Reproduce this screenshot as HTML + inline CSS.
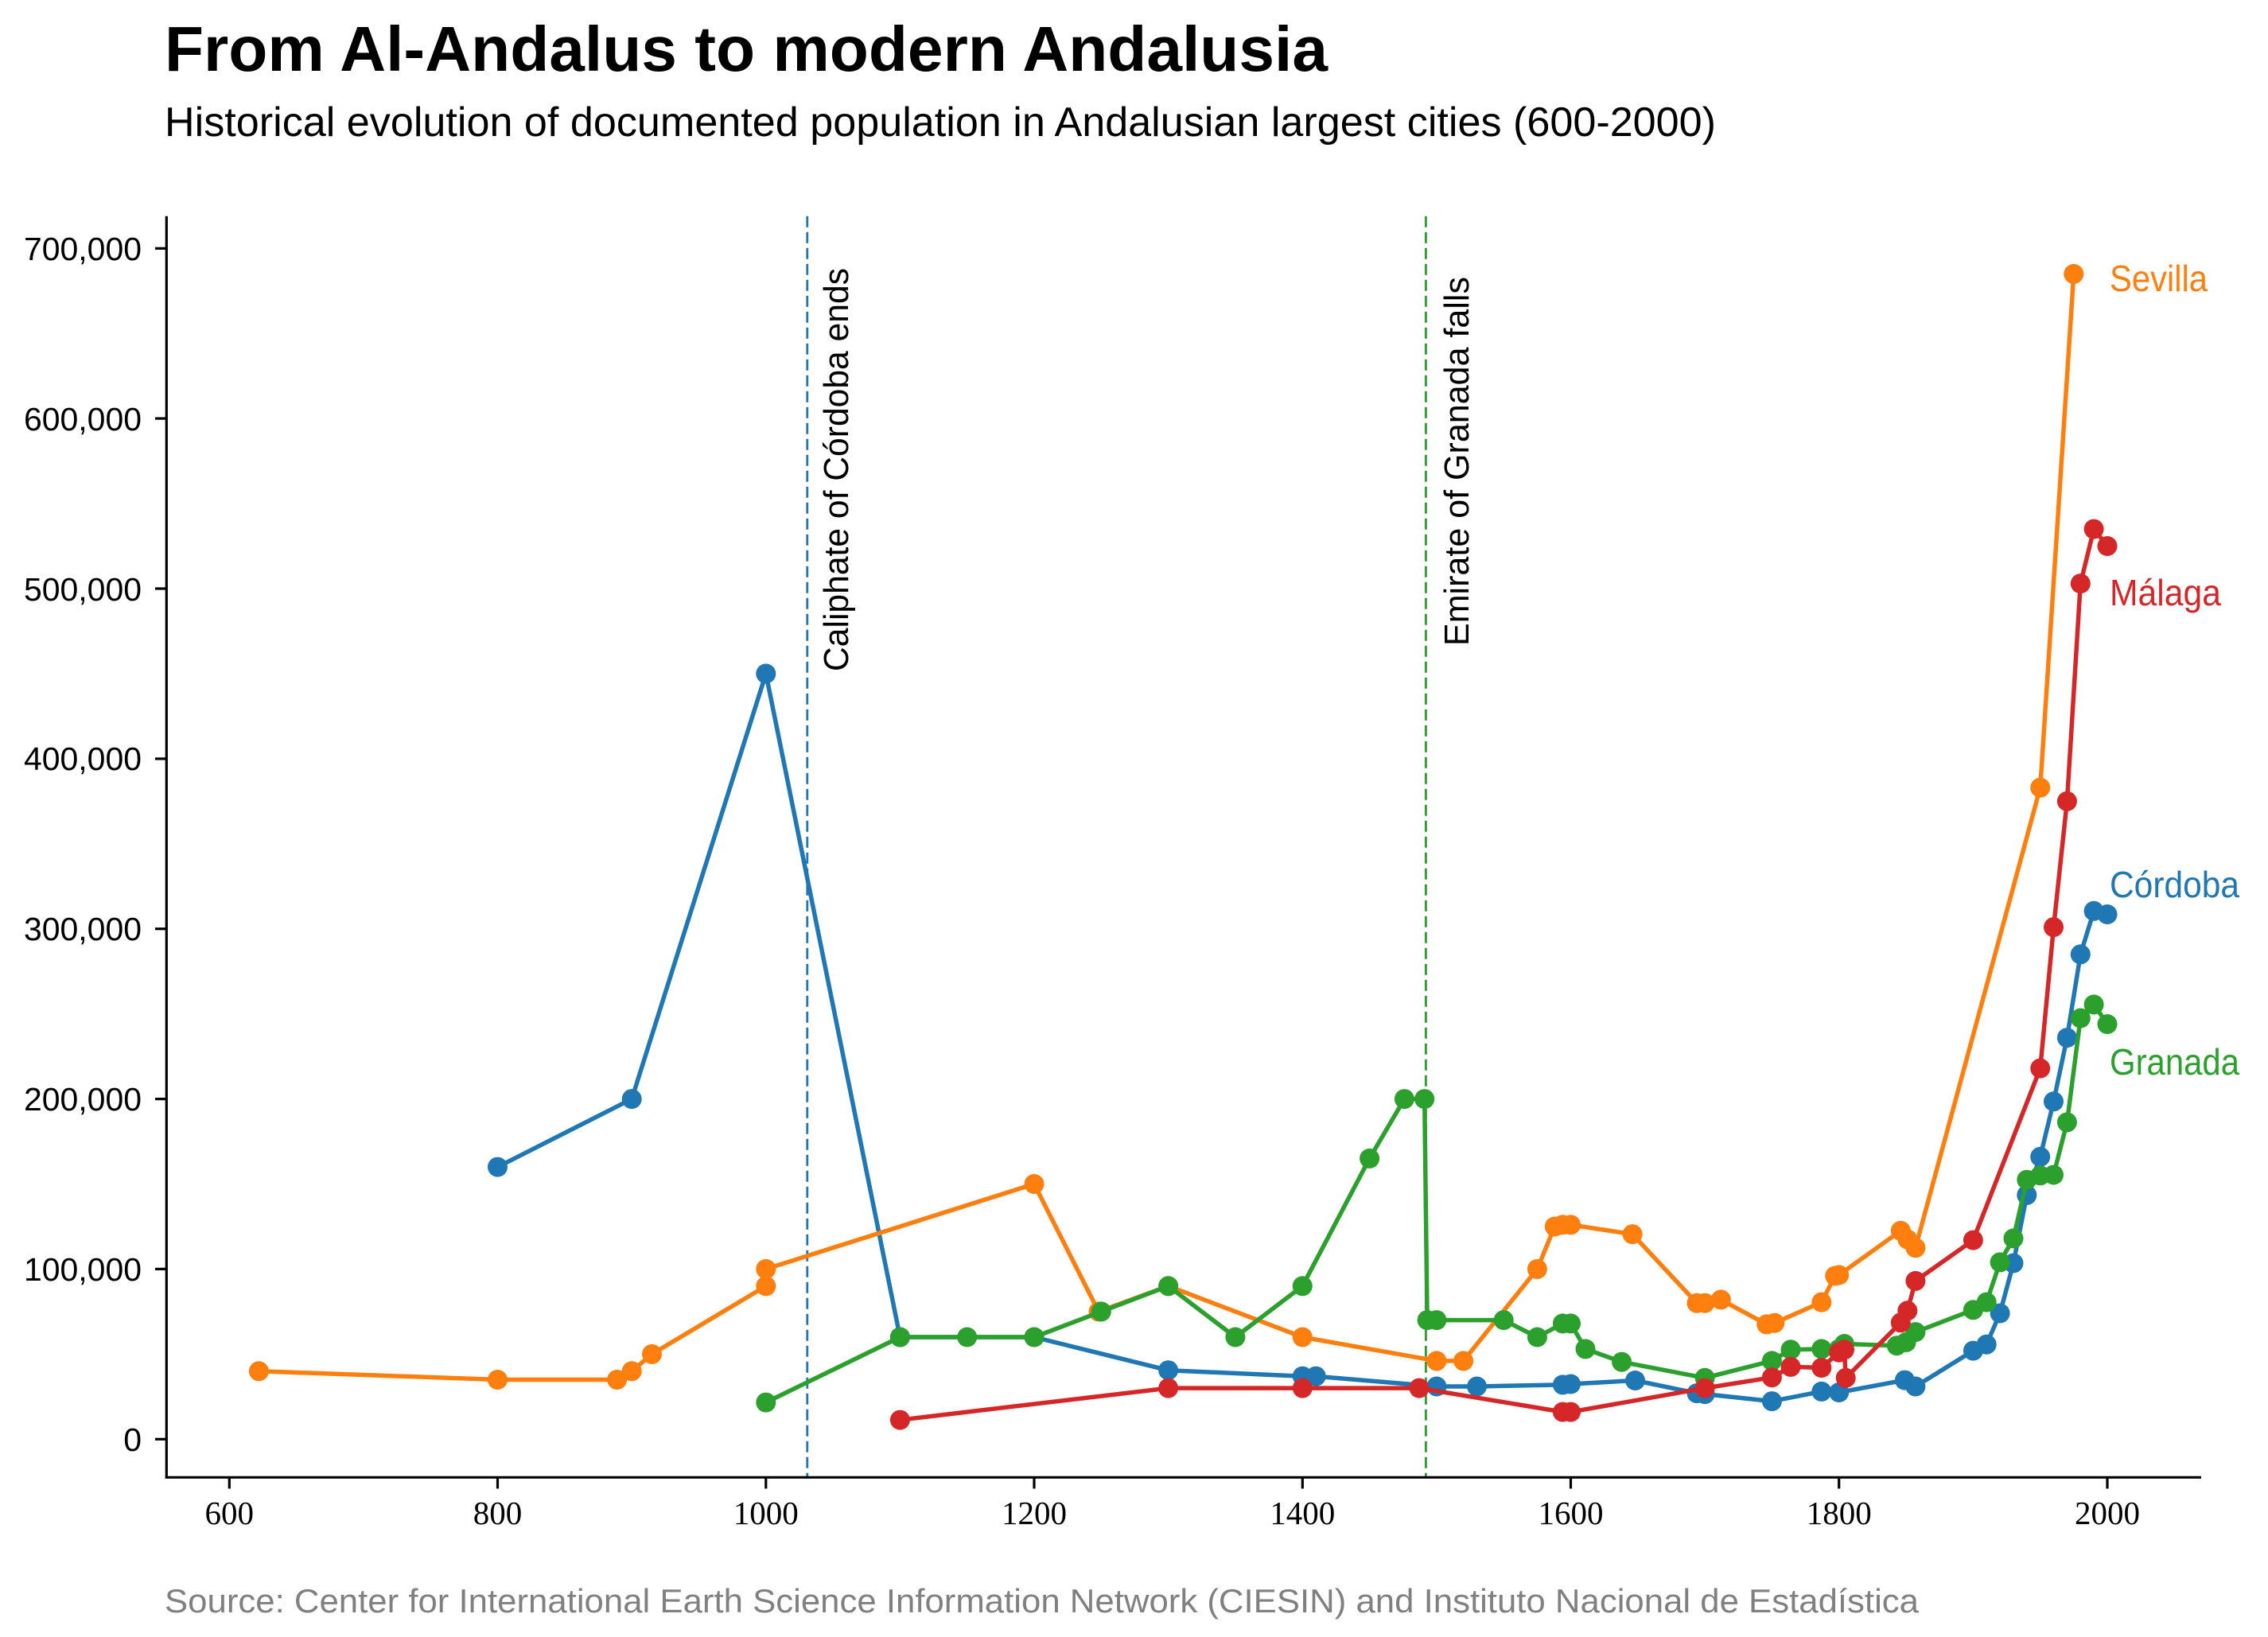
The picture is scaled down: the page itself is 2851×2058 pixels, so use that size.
<!DOCTYPE html>
<html>
<head>
<meta charset="utf-8">
<style>
html,body{margin:0;padding:0;background:#fff;}
svg{display:block;}
text{font-family:"Liberation Sans",sans-serif;}
.serif{font-family:"Liberation Serif",serif;}
</style>
</head>
<body>
<svg width="2851" height="2058" viewBox="0 0 2851 2058" xmlns="http://www.w3.org/2000/svg">
<defs>
<marker id="mb" markerUnits="userSpaceOnUse" markerWidth="28" markerHeight="28" refX="14" refY="14" viewBox="0 0 28 28"><circle cx="14" cy="14" r="12.5" fill="#1f77b4"/></marker>
<marker id="mo" markerUnits="userSpaceOnUse" markerWidth="28" markerHeight="28" refX="14" refY="14" viewBox="0 0 28 28"><circle cx="14" cy="14" r="12.5" fill="#ff7f0e"/></marker>
<marker id="mg" markerUnits="userSpaceOnUse" markerWidth="28" markerHeight="28" refX="14" refY="14" viewBox="0 0 28 28"><circle cx="14" cy="14" r="12.5" fill="#2ca02c"/></marker>
<marker id="mr" markerUnits="userSpaceOnUse" markerWidth="28" markerHeight="28" refX="14" refY="14" viewBox="0 0 28 28"><circle cx="14" cy="14" r="12.5" fill="#d62728"/></marker>
</defs>
<rect width="2851" height="2058" fill="#fff"/>

<!-- Title -->
<text x="207" y="89" font-size="80" font-weight="bold" fill="#000" textLength="1462" lengthAdjust="spacingAndGlyphs">From Al-Andalus to modern Andalusia</text>
<text x="207" y="171" font-size="52" fill="#000" textLength="1950" lengthAdjust="spacingAndGlyphs">Historical evolution of documented population in Andalusian largest cities (600-2000)</text>

<!-- Vertical event lines -->
<line x1="1014.8" y1="271.7" x2="1014.8" y2="1857.3" stroke="#1f77b4" stroke-width="2.8" stroke-dasharray="14 6"/>
<line x1="1792.4" y1="271.7" x2="1792.4" y2="1857.3" stroke="#2ca02c" stroke-width="2.8" stroke-dasharray="14 6"/>
<text transform="translate(1066,844) rotate(-90)" font-size="44" fill="#000" textLength="507" lengthAdjust="spacingAndGlyphs">Caliphate of Córdoba ends</text>
<text transform="translate(1846,812) rotate(-90)" font-size="44" fill="#000" textLength="464" lengthAdjust="spacingAndGlyphs">Emirate of Granada falls</text>

<!-- Córdoba (blue) -->
<polyline fill="none" stroke="#1f77b4" stroke-width="5.5" stroke-linejoin="round" marker-start="url(#mb)" marker-mid="url(#mb)" marker-end="url(#mb)" points="625.5,1467.1 794.2,1381.6 962.8,846.9 1131.4,1681.0 1300.0,1681.0 1468.6,1722.7 1637.3,1730.2 1654.2,1730.2 1805.9,1743.0 1856.5,1743.0 1964.4,1740.9 1974.5,1740.0 2055.5,1735.5 2133.0,1751.6 2143.1,1752.6 2227.4,1761.6 2289.8,1749.4 2311.7,1750.5 2394.4,1735.1 2407.9,1743.0 2480.4,1698.1 2497.2,1690.2 2514.1,1651.0 2531.0,1588.0 2547.8,1502.4 2564.7,1454.3 2581.5,1384.8 2598.4,1304.6 2615.3,1199.8 2632.1,1145.3 2649.0,1149.5"/>

<!-- Sevilla (orange) -->
<polyline fill="none" stroke="#ff7f0e" stroke-width="5.5" stroke-linejoin="round" marker-start="url(#mo)" marker-mid="url(#mo)" marker-end="url(#mo)" points="325.4,1723.8 625.5,1734.5 775.6,1734.5 794.2,1723.8 819.5,1702.4 962.8,1616.8 962.8,1595.4 1300.0,1488.5 1381.0,1648.9 1468.6,1616.8 1637.3,1681.0 1805.9,1710.9 1839.6,1710.9 1932.4,1595.4 1954.3,1542.0 1964.4,1539.8 1974.5,1539.8 2052.1,1551.6 2133.0,1638.2 2143.1,1638.2 2163.3,1633.9 2220.7,1664.9 2230.8,1663.2 2289.8,1637.1 2306.7,1604.0 2311.7,1602.9 2389.3,1547.3 2397.8,1558.0 2407.9,1568.7 2564.7,990.2 2606.8,344.4"/>

<!-- Granada (green) -->
<polyline fill="none" stroke="#2ca02c" stroke-width="5.5" stroke-linejoin="round" marker-start="url(#mg)" marker-mid="url(#mg)" marker-end="url(#mg)" points="962.8,1763.1 1131.4,1681.0 1215.7,1681.0 1300.0,1681.0 1384.3,1648.9 1468.6,1616.8 1552.9,1681.0 1637.3,1616.8 1721.6,1456.4 1765.4,1381.6 1790.7,1381.6 1794.1,1659.6 1805.9,1659.6 1890.2,1659.6 1932.4,1681.0 1964.4,1663.9 1974.5,1663.9 1993.0,1695.9 2038.6,1712.2 2143.1,1732.3 2227.4,1710.9 2251.0,1696.8 2289.8,1695.9 2311.7,1695.9 2318.5,1689.5 2384.3,1691.7 2396.1,1687.4 2407.9,1674.6 2480.4,1646.8 2497.2,1637.1 2514.1,1586.9 2531.0,1556.9 2547.8,1483.2 2564.7,1477.8 2581.5,1477.0 2598.4,1410.9 2615.3,1280.0 2632.1,1262.9 2649.0,1287.5"/>

<!-- Málaga (red) -->
<polyline fill="none" stroke="#d62728" stroke-width="5.5" stroke-linejoin="round" marker-start="url(#mr)" marker-mid="url(#mr)" marker-end="url(#mr)" points="1131.4,1785.1 1468.6,1745.1 1637.3,1745.1 1784.0,1745.1 1964.4,1775.1 1974.5,1775.1 2143.1,1745.1 2227.4,1731.7 2251.0,1718.4 2289.8,1719.5 2311.7,1700.2 2318.5,1696.8 2320.2,1732.3 2389.3,1662.8 2397.8,1647.8 2407.9,1610.4 2480.4,1559.1 2564.7,1343.1 2581.5,1165.6 2598.4,1007.3 2615.3,733.6 2632.1,665.1 2649.0,686.5"/>

<!-- Series labels -->
<text x="2652" y="366" font-size="46" fill="#ff7f0e" textLength="123" lengthAdjust="spacingAndGlyphs">Sevilla</text>
<text x="2652" y="761" font-size="46" fill="#d62728" textLength="140" lengthAdjust="spacingAndGlyphs">Málaga</text>
<text x="2652" y="1128" font-size="46" fill="#1f77b4" textLength="163" lengthAdjust="spacingAndGlyphs">Córdoba</text>
<text x="2652" y="1351" font-size="46" fill="#2ca02c" textLength="163" lengthAdjust="spacingAndGlyphs">Granada</text>

<!-- Axes spines -->
<line x1="209.3" y1="271.7" x2="209.3" y2="1858.8" stroke="#000" stroke-width="3.2"/>
<line x1="207.7" y1="1857.3" x2="2767" y2="1857.3" stroke="#000" stroke-width="3.2"/>

<!-- Y ticks -->
<g stroke="#000" stroke-width="3.2">
<line x1="195" y1="1809.3" x2="209.3" y2="1809.3"/>
<line x1="195" y1="1595.4" x2="209.3" y2="1595.4"/>
<line x1="195" y1="1381.6" x2="209.3" y2="1381.6"/>
<line x1="195" y1="1167.7" x2="209.3" y2="1167.7"/>
<line x1="195" y1="953.9" x2="209.3" y2="953.9"/>
<line x1="195" y1="740.0" x2="209.3" y2="740.0"/>
<line x1="195" y1="526.1" x2="209.3" y2="526.1"/>
<line x1="195" y1="312.3" x2="209.3" y2="312.3"/>
</g>
<g font-size="41" fill="#000" text-anchor="end">
<text x="178" y="1824">0</text>
<text x="178" y="1610" textLength="148" lengthAdjust="spacingAndGlyphs">100,000</text>
<text x="178" y="1396" textLength="148" lengthAdjust="spacingAndGlyphs">200,000</text>
<text x="178" y="1182" textLength="148" lengthAdjust="spacingAndGlyphs">300,000</text>
<text x="178" y="968" textLength="148" lengthAdjust="spacingAndGlyphs">400,000</text>
<text x="178" y="755" textLength="148" lengthAdjust="spacingAndGlyphs">500,000</text>
<text x="178" y="541" textLength="148" lengthAdjust="spacingAndGlyphs">600,000</text>
<text x="178" y="327" textLength="148" lengthAdjust="spacingAndGlyphs">700,000</text>
</g>

<!-- X ticks -->
<g stroke="#000" stroke-width="3.2">
<line x1="288.3" y1="1857.3" x2="288.3" y2="1871.5"/>
<line x1="625.5" y1="1857.3" x2="625.5" y2="1871.5"/>
<line x1="962.8" y1="1857.3" x2="962.8" y2="1871.5"/>
<line x1="1300.0" y1="1857.3" x2="1300.0" y2="1871.5"/>
<line x1="1637.3" y1="1857.3" x2="1637.3" y2="1871.5"/>
<line x1="1974.5" y1="1857.3" x2="1974.5" y2="1871.5"/>
<line x1="2311.7" y1="1857.3" x2="2311.7" y2="1871.5"/>
<line x1="2649.0" y1="1857.3" x2="2649.0" y2="1871.5"/>
</g>
<g font-size="41" fill="#000" text-anchor="middle">
<text class="serif" x="288.3" y="1916">600</text>
<text class="serif" x="625.5" y="1916">800</text>
<text class="serif" x="962.8" y="1916">1000</text>
<text class="serif" x="1300.0" y="1916">1200</text>
<text class="serif" x="1637.3" y="1916">1400</text>
<text class="serif" x="1974.5" y="1916">1600</text>
<text class="serif" x="2311.7" y="1916">1800</text>
<text class="serif" x="2649.0" y="1916">2000</text>
</g>

<!-- Source -->
<text x="207" y="2027" font-size="42" fill="#808080" textLength="2205" lengthAdjust="spacingAndGlyphs">Source: Center for International Earth Science Information Network (CIESIN) and Instituto Nacional de Estadística</text>
</svg>
</body>
</html>
